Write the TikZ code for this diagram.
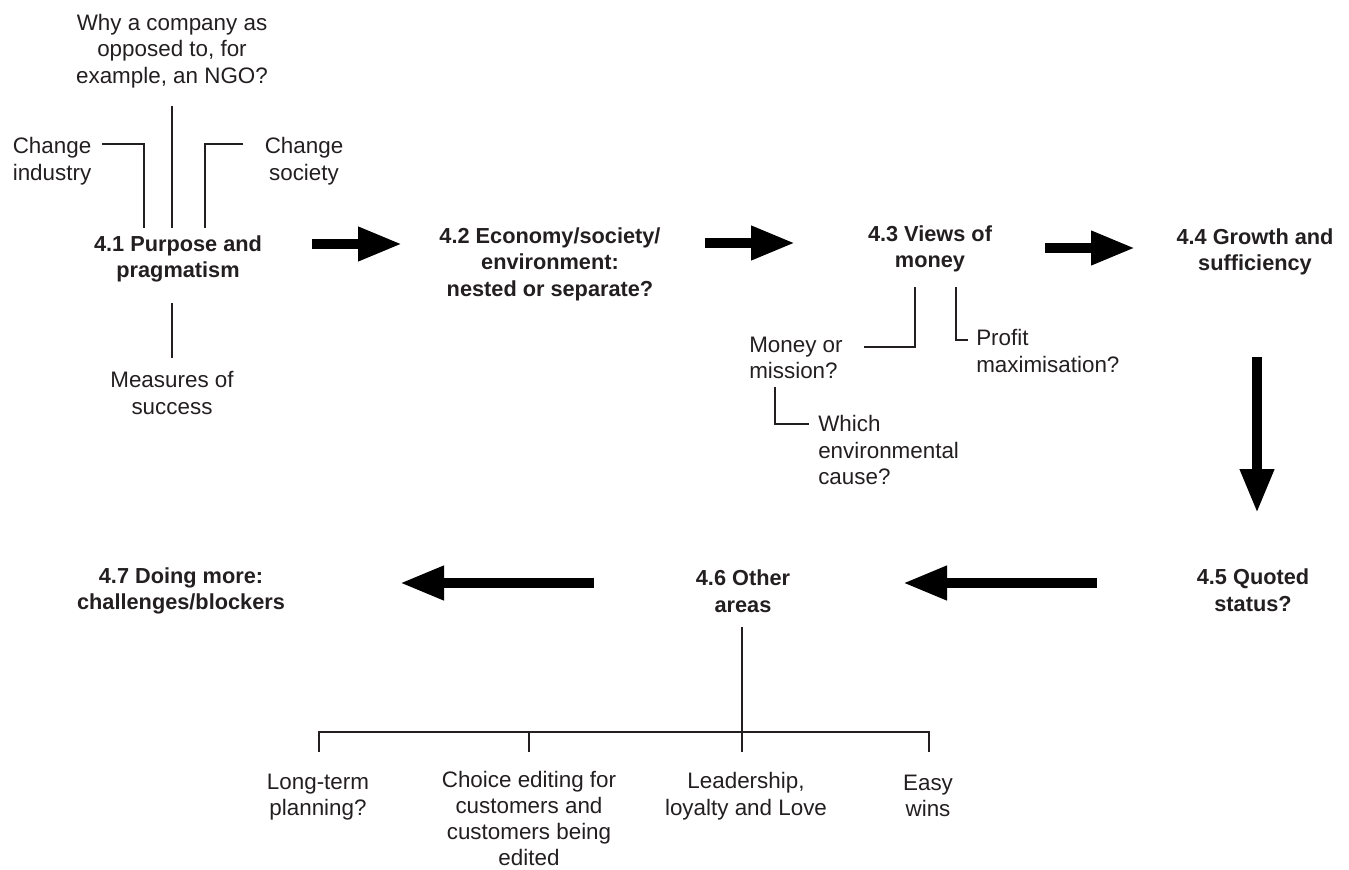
\documentclass[tikz,border=0pt]{standalone}
\usepackage{fontspec}
\setmainfont{Liberation Sans}
\usetikzlibrary{arrows.meta}
\definecolor{ink}{RGB}{35,31,32}
\tikzset{
  txt/.style={inner sep=0pt, align=center, text=ink, font=\fontsize{16.8}{19.9}\selectfont},
  ltxt/.style={txt, align=left, anchor=west},
  head/.style={txt, font=\fontsize{16.3}{19.9}\selectfont\bfseries},
  tie/.style={draw=ink, line width=1.5pt},
  fat/.style={draw=black, line width=7.5pt, -{Triangle[length=33pt,width=24pt]}}
}
\begin{document}
\begin{tikzpicture}[x=0.75pt,y=-0.75pt]
\useasboundingbox (0,0) rectangle (1349,870);
% main nodes
\node[head] (q41) at (178,259) {4.1 Purpose and\\pragmatism};
\node[head] (q42) at (550,264) {4.2 Economy/society/\\environment:\\nested or separate?};
\node[head] (q43) at (930,249) {4.3 Views of\\money};
\node[head] (q44) at (1255,252) {4.4 Growth and\\sufficiency};
\node[head] (q45) at (1253,590) {4.5 Quoted\\status?};
\node[head] (q46) at (743,591) {4.6 Other\\areas};
\node[head] (q47) at (181,591) {4.7 Doing more:\\challenges/blockers};
% 4.1 satellites
\node[txt] (why) at (172,51) {Why a company as\\opposed to, for\\example, an NGO?};
\node[txt] (cind) at (52,161) {Change\\industry};
\node[txt] (csoc) at (304,161) {Change\\society};
\node[txt] (meas) at (172,393) {Measures of\\success};
% 4.3 satellites
\node[ltxt] (mom) at (749,358) {Money or\\mission?};
\node[ltxt] (prof) at (976,351) {Profit\\maximisation?};
\node[ltxt] (which) at (818,450) {Which\\environmental\\cause?};
% 4.6 satellites
\node[txt] (ltp) at (318,797) {Long-term\\planning?};
\node[txt, font=\fontsize{16.8}{19.5}\selectfont] (cho) at (529,818) {Choice editing for\\customers and\\customers being\\edited};
\node[txt] (lead) at (746,796) {Leadership,\\loyalty and Love};
\node[txt] (easy) at (928,796) {Easy\\wins};
% connector coordinates
\coordinate (whyA) at (172,106); \coordinate (whyB) at (172,228);
\coordinate (indA) at (102,144); \coordinate (indB) at (144,228);
\coordinate (socA) at (243,144); \coordinate (socB) at (205,228);
\coordinate (meaA) at (172,303); \coordinate (meaB) at (172,358);
\coordinate (momA) at (915,287); \coordinate (momB) at (864,347);
\coordinate (proA) at (956,287); \coordinate (proB) at (968,340);
\coordinate (whiA) at (775,387); \coordinate (whiB) at (809,424);
\coordinate (othA) at (742,627); \coordinate (othB) at (742,732);
\coordinate (ltpT) at (319,752); \coordinate (choT) at (529,752);
\coordinate (leaT) at (742,752); \coordinate (easT) at (929,752);
\draw[tie] (whyA) -- (whyB);
\draw[tie] (indA) -| (indB);
\draw[tie] (socA) -| (socB);
\draw[tie] (meaA) -- (meaB);
\draw[tie] (momA) |- (momB);
\draw[tie] (proA) |- (proB);
\draw[tie] (whiA) |- (whiB);
\draw[tie] (othA) -- (leaT);
\draw[tie] (ltpT) |- (othB) -| (easT);
\draw[tie] (choT) -- (choT |- othB);
% fat arrows
\coordinate (a1s) at (312,244); \coordinate (a1e) at (402,244);
\coordinate (a2s) at (705,243); \coordinate (a2e) at (795,243);
\coordinate (a3s) at (1045,248); \coordinate (a3e) at (1135,248);
\coordinate (a4s) at (1257,357); \coordinate (a4e) at (1257,513);
\coordinate (a5s) at (1097,583); \coordinate (a5e) at (903,583);
\coordinate (a6s) at (594,583); \coordinate (a6e) at (400,583);
\draw[fat] (a1s) -- (a1e);
\draw[fat] (a2s) -- (a2e);
\draw[fat] (a3s) -- (a3e);
\draw[fat] (a4s) -- (a4e);
\draw[fat] (a5s) -- (a5e);
\draw[fat] (a6s) -- (a6e);
\end{tikzpicture}
\end{document}
